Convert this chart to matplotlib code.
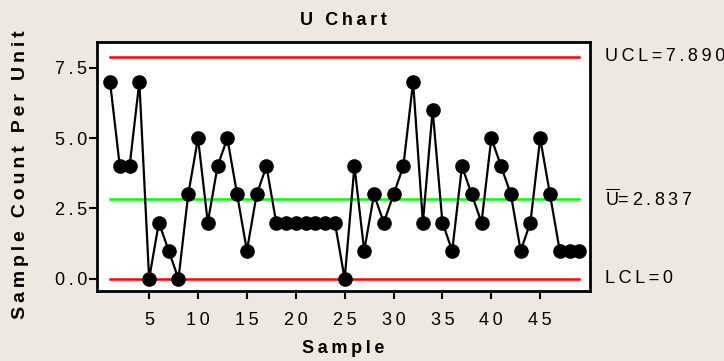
import numpy as np
import matplotlib
matplotlib.use('Agg')
import matplotlib.pyplot as plt
from matplotlib.ticker import FuncFormatter

# defects per unit for each sample
samples = list(range(1, 50))
counts = [7, 4, 4, 7, 0, 2, 1, 0, 3, 5,
          2, 4, 5, 3, 1, 3, 4, 2, 2, 2,
          2, 2, 2, 2, 0, 4, 1, 3, 2, 3,
          4, 7, 2, 6, 2, 1, 4, 3, 2, 5,
          4, 3, 1, 2, 5, 3, 1, 1, 1]
x_ticks = [5, 10, 15, 20, 25, 30, 35, 40, 45]
y_ticks = [0, 2.5, 5, 7.5]

u_bar = np.mean(counts)
ucl = u_bar + 3 * np.sqrt(u_bar)
lcl = max(0.0, u_bar - 3 * np.sqrt(u_bar))

bg = '#EEE9E0'
plt.rcParams['font.family'] = ['Liberation Sans', 'DejaVu Sans']
plt.rcParams['mathtext.fontset'] = 'custom'
plt.rcParams['mathtext.rm'] = 'Liberation Sans'


def spaced(s):
    # wide tracking between characters
    return '\u2009'.join(s)


fig = plt.figure(figsize=(7.24, 3.61), dpi=100, facecolor=bg)
ax = fig.add_axes([0.134, 0.194, 0.681, 0.690])
ax.set_facecolor('white')

ax.plot([samples[0], samples[-1]], [ucl, ucl], color='#FF0000', lw=1.8)
ax.plot([samples[0], samples[-1]], [lcl, lcl], color='#FF0000', lw=1.8)
ax.plot([samples[0], samples[-1]], [u_bar, u_bar], color='#00FF00', lw=1.8)
ax.plot(samples, counts, color='black', lw=1.6, marker='o', markersize=9.5, zorder=3)

ax.set_xlim(-0.33, 50.1)
ax.set_ylim(-0.43, 8.42)
ax.set_xticks(x_ticks)
ax.set_yticks(y_ticks)
ax.xaxis.set_major_formatter(FuncFormatter(lambda v, p: spaced('%d' % v)))
ax.yaxis.set_major_formatter(FuncFormatter(lambda v, p: spaced('%.1f' % v)))
ax.tick_params(direction='out', length=6, width=1.5, labelsize=13)
ax.tick_params(axis='x', pad=9)
ax.tick_params(axis='y', pad=1)
for s in ax.spines.values():
    s.set_linewidth(2)

ax.set_title(spaced('U Chart'), fontsize=13, fontweight='bold', pad=12)
ax.set_xlabel(spaced('Sample'), fontsize=13, fontweight='bold', labelpad=8)
fig.text(0.028, 0.515, spaced('Sample Count Per Unit'), fontsize=14, fontweight='bold',
         rotation=90, ha='center', va='center')

# limit labels to the right of the plot
tx = ax.get_xlim()[1] + 1.5
ax.text(tx, ucl, spaced('UCL=%.3f' % ucl), fontsize=13, va='center', ha='left', clip_on=False)
ax.text(tx, u_bar, r'$\overline{\mathrm{U}}$' + spaced('=%.3f' % u_bar), fontsize=13,
        va='center', ha='left', clip_on=False)
ax.text(tx, lcl, spaced('LCL=%g' % lcl), fontsize=13, va='center', ha='left', clip_on=False)

fig.savefig('out.png', dpi=100, facecolor=bg)
